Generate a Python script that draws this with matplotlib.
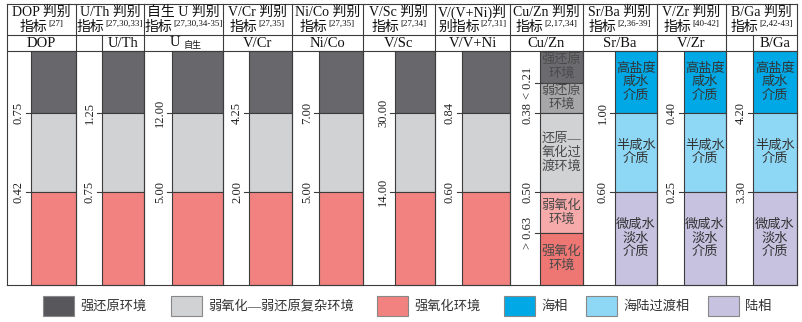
import matplotlib.pyplot as plt
from matplotlib.patches import Rectangle

plt.rcParams['font.family'] = ['Liberation Serif', 'Noto Sans CJK SC']

# 判别指标
titles = ['DOP 判别', 'U/Th 判别', '自生 U 判别', 'V/Cr 判别', 'Ni/Co 判别', 'V/Sc 判别',
          'V/(V+Ni)判', 'Cu/Zn 判别', 'Sr/Ba 判别', 'V/Zr 判别', 'B/Ga 判别']
titles2 = ['指标', '指标', '指标', '指标', '指标', '指标', '别指标', '指标', '指标', '指标', '指标']
refs = ['[27]', '[27,30,33]', '[27,30,34-35]', '[27,35]', '[27,35]', '[27,34]', '[27,31]',
        '[2,17,34]', '[2,36-39]', '[40-42]', '[2,42-43]']
names = ['DOP', 'U/Th', 'U', 'V/Cr', 'Ni/Co', 'V/Sc', 'V/V+Ni', 'Cu/Zn', 'Sr/Ba', 'V/Zr', 'B/Ga']
upper = ['0.75', '1.25', '12.00', '4.25', '7.00', '30.00', '0.84', '0.38', '1.00', '0.40', '4.20']
lower = ['0.42', '0.75', '5.00', '2.00', '5.00', '14.00', '0.60', '0.50', '0.60', '0.25', '3.30']
cuzn_extra = ['< 0.21', '> 0.63']

redox_colors = ['#68686c', '#d1d2d4', '#f2827f']
cuzn_colors = ['#6b6b6f', '#a7a7aa', '#d1d2d4', '#f6aaa9', '#ee7773']
cuzn_text = ['强还原\n环境', '弱还原\n环境', '还原—\n氧化过\n渡环境', '弱氧化\n环境', '强氧化\n环境']
sal_colors = ['#00a9e6', '#8ed8f6', '#c6c2e0']
sal_text = ['高盐度\n咸水\n介质', '半咸水\n介质', '微咸水\n淡水\n介质']

legend_labels = ['强还原环境', '弱氧化—弱还原复杂环境', '强氧化环境', '海相', '海陆过渡相', '陆相']
legend_colors = ['#58585c', '#d1d2d4', '#f2827f', '#00a9e6', '#8ed8f6', '#c6c2e0']

# layout (pixels)
col_edges = [7, 76, 144, 223, 292, 363, 435, 510, 583, 657, 726, 797]
bar_left = [31, 102, 172, 249, 319, 395, 462, 540, 615, 684, 753]
zone_y = [51, 113, 192, 285]
cuzn_y = [51, 83, 113, 192, 233, 285]
y_top, y_mid = 4, 35
legend_x = [43, 171, 377, 504, 586, 708]
lc = '#3c3c3c'

fig = plt.figure(figsize=(8.03, 3.22), dpi=100)
ax = fig.add_axes([0, 0, 1, 1])
ax.set_xlim(0, 803)
ax.set_ylim(322, 0)
ax.axis('off')
renderer = fig.canvas.get_renderer()

# bars
for i in range(11):
    bl, br = bar_left[i], col_edges[i + 1]
    if i == 7:
        edges, colors = cuzn_y, cuzn_colors
    elif i > 7:
        edges, colors = zone_y, sal_colors
    else:
        edges, colors = zone_y, redox_colors
    for k in range(len(colors)):
        ax.bar((bl + br) / 2, edges[k + 1] - edges[k], bottom=edges[k], width=br - bl,
               color=colors[k], edgecolor=lc, lw=0.8)
    if i == 7:
        for k in range(5):
            ax.text((bl + br) / 2, (edges[k] + edges[k + 1]) / 2, cuzn_text[k], ha='center',
                    va='center', fontsize=9.5, color='#4a4a4a', linespacing=1.15)
    if i > 7:
        for k in range(3):
            ax.text((bl + br) / 2, (edges[k] + edges[k + 1]) / 2, sal_text[k], ha='center',
                    va='center', fontsize=9.5, color='#333333', linespacing=1.15)

    # threshold labels
    labs = [(upper[i], zone_y[1]), (lower[i], zone_y[2])]
    if i == 7:
        labs += [(cuzn_extra[0], cuzn_y[1]), (cuzn_extra[1], cuzn_y[4])]
    for s, y in labs:
        ax.text(bl - 12, y, s, rotation=90, ha='center', va='center', fontsize=9,
                color='#222222', rotation_mode='anchor')
        ax.plot([bl - 5, bl], [y, y], color=lc, lw=0.8)

# table lines
for y in [y_top, y_mid, zone_y[0], zone_y[-1]]:
    ax.plot([col_edges[0], col_edges[-1]], [y, y], color=lc, lw=0.8)
for x in col_edges:
    ax.plot([x, x], [y_top, zone_y[-1]], color=lc, lw=0.8)
for i in [1, 10]:
    ax.plot([bar_left[i], bar_left[i]], [y_mid, zone_y[0]], color=lc, lw=0.8)

# headers
for i in range(11):
    cx = (col_edges[i] + col_edges[i + 1]) / 2
    ax.text(cx, 12.5, titles[i], ha='center', va='center', fontsize=10, color='#111111')
    t = ax.text(0, 27, titles2[i], ha='left', va='center', fontsize=10, color='#111111')
    r = ax.text(0, 24, refs[i], ha='left', va='center', fontsize=6.5, color='#111111')
    w1 = t.get_window_extent(renderer).width
    w2 = r.get_window_extent(renderer).width
    x0 = cx - (w1 + w2 + 1) / 2
    t.set_x(x0)
    r.set_x(x0 + w1 + 1)

    if i in (1, 10):
        nx = (bar_left[i] + col_edges[i + 1]) / 2
    else:
        nx = cx
    if i == 2:
        u = ax.text(0, 42.5, names[i], ha='left', va='center', fontsize=10.5, color='#111111')
        s = ax.text(0, 45.5, '自生', ha='left', va='center', fontsize=6.5, color='#111111')
        w1 = u.get_window_extent(renderer).width
        w2 = s.get_window_extent(renderer).width
        x0 = cx + 2 - (w1 + 4 + w2) / 2
        u.set_x(x0)
        s.set_x(x0 + w1 + 4)
    else:
        ax.text(nx, 43, names[i], ha='center', va='center', fontsize=10.5, color='#111111')

# legend
for x, c, lab in zip(legend_x, legend_colors, legend_labels):
    ax.add_patch(Rectangle((x, 296), 31, 20, facecolor=c, edgecolor='#888888', lw=0.8))
    ax.text(x + 37, 306.5, lab, ha='left', va='center', fontsize=9.5, color='#333333')

fig.savefig('out.png', dpi=100)
